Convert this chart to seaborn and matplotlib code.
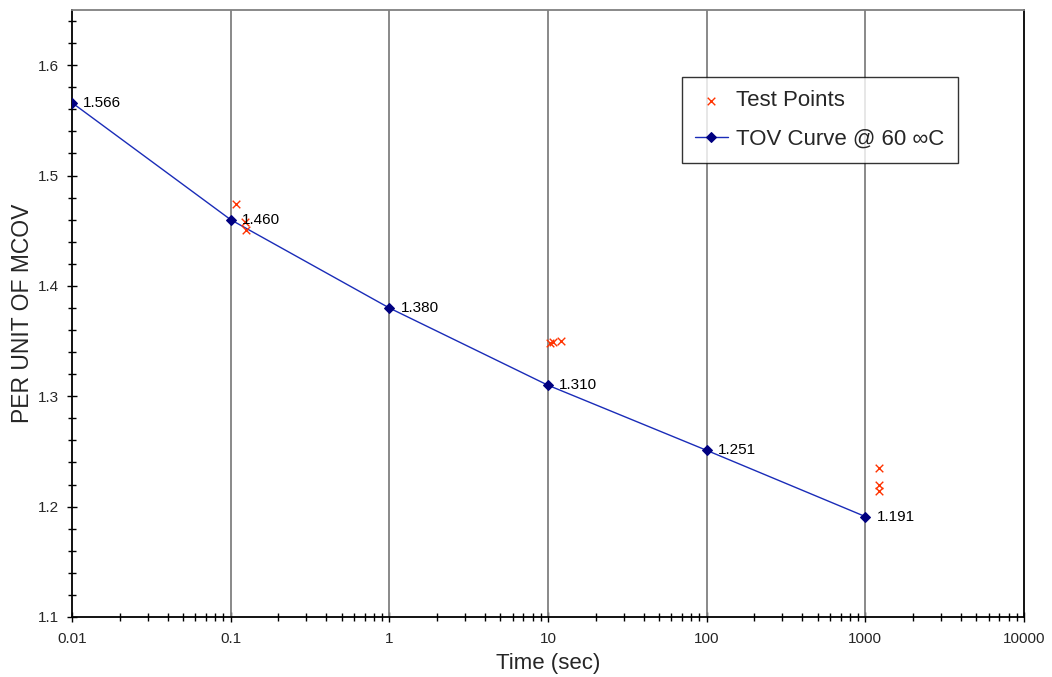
import matplotlib
matplotlib.use("Agg")
import matplotlib.pyplot as plt
import matplotlib.ticker as mticker
import seaborn as sns
import pandas as pd
import numpy as np

# ---- data ----
curve_time = [0.01, 0.1, 1, 10, 100, 1000]
curve_pu = [1.566, 1.460, 1.380, 1.310, 1.251, 1.191]
curve_labels = ["1.566", "1.460", "1.380", "1.310", "1.251", "1.191"]

test_time = [0.108, 0.123, 0.125, 10.3, 10.8, 12.0, 1220, 1220, 1220]
test_pu = [1.474, 1.458, 1.451, 1.348, 1.349, 1.350, 1.235, 1.220, 1.214]

x_ticks = [0.01, 0.1, 1, 10, 100, 1000, 10000]
x_ticklabels = ["0.01", "0.1", "1", "10", "100", "1000", "10000"]
y_ticks = [1.1, 1.2, 1.3, 1.4, 1.5, 1.6]
y_ticklabels = ["1.1", "1.2", "1.3", "1.4", "1.5", "1.6"]

sns.set_theme(style="white")
plt.rcParams["font.family"] = ["Liberation Sans", "DejaVu Sans"]

fig = plt.figure(figsize=(10.52, 6.77), dpi=100)
ax = fig.add_axes([72 / 1052, 60 / 677, (1024 - 72) / 1052, (617 - 10) / 677])

curve_df = pd.DataFrame({"time": curve_time, "pu": curve_pu})
test_df = pd.DataFrame({"time": test_time, "pu": test_pu})

sns.scatterplot(data=test_df, x="time", y="pu", marker="x", s=30,
                color="#FF3300", linewidth=1.0, ax=ax, label="Test Points", zorder=4)
sns.lineplot(data=curve_df, x="time", y="pu", color="#1a2cb8", linewidth=1.0,
             marker="D", markersize=5, markerfacecolor="#000080",
             markeredgecolor="#000080", ax=ax, label="TOV Curve @ 60 \u221eC", zorder=3)

ax.set_xscale("log")
ax.set_xlim(0.01, 10000)
ax.set_ylim(1.1, 1.65)

ax.set_xticks(x_ticks)
ax.set_xticklabels(x_ticklabels)
ax.xaxis.set_minor_locator(mticker.LogLocator(base=10, subs=np.arange(2, 10)))
ax.xaxis.set_minor_formatter(mticker.NullFormatter())
ax.set_yticks(y_ticks)
ax.set_yticklabels(y_ticklabels)
ax.yaxis.set_minor_locator(mticker.MultipleLocator(0.02))

ax.tick_params(axis="both", which="major", direction="inout", length=7, width=1.0,
               color="black", labelsize=11, bottom=True, left=True)
ax.tick_params(axis="x", which="major", pad=7)
ax.tick_params(axis="y", which="major", pad=6)
ax.tick_params(axis="both", which="minor", direction="inout", length=6, width=1.0,
               color="black", bottom=True, left=True)

ax.grid(False)
for xv in x_ticks[1:-1]:
    ax.axvline(xv, color="#808080", linewidth=1.3, zorder=1)

for side in ["left", "bottom", "right"]:
    ax.spines[side].set_color("black")
    ax.spines[side].set_linewidth(1.3)
ax.spines["top"].set_color("#808080")
ax.spines["top"].set_linewidth(1.3)

for t, p, lab in zip(curve_time, curve_pu, curve_labels):
    ax.annotate(lab, (t, p), xytext=(8, 0), textcoords="offset points",
                ha="left", va="center", fontsize=11, color="black", zorder=5)

ax.set_xlabel("Time (sec)", fontsize=16, labelpad=5)
ax.set_ylabel("PER UNIT OF MCOV", fontsize=16.5, labelpad=3)

leg = ax.legend(loc="upper left", bbox_to_anchor=(682 / 1052, 1 - 77 / 677),
                bbox_transform=fig.transFigure, borderaxespad=0, fontsize=16,
                frameon=True, fancybox=False, shadow=False, handlelength=1.45,
                handletextpad=0.4, labelspacing=0.8, borderpad=0.6)
leg.get_frame().set_edgecolor("black")
leg.get_frame().set_linewidth(1.0)

fig.savefig("out.png", dpi=100)
